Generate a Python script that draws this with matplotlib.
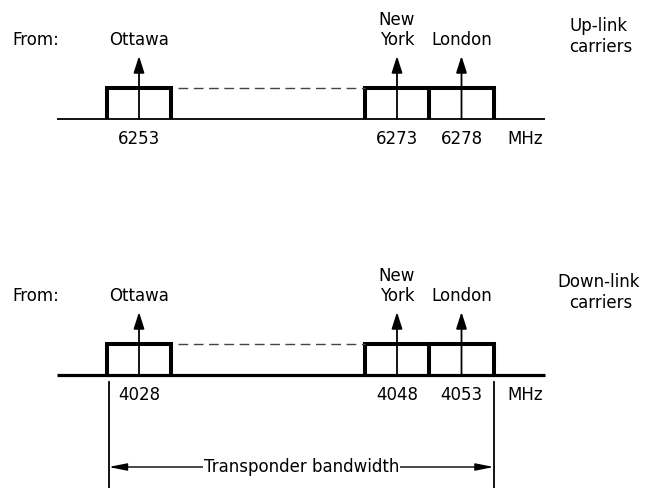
import matplotlib.pyplot as plt

# carrier data (MHz)
sites = ['Ottawa', 'New\nYork', 'London']
uplink_mhz = [6253, 6273, 6278]
downlink_mhz = [4028, 4048, 4053]
carrier_bw = 5.0

W, H = 657, 489
PX_PER_MHZ = 12.9
FONT = 'DejaVu Sans'
FS = 12

plt.rcParams['font.family'] = FONT


def make_axes(fig, f0):
    ax = fig.add_axes([0, 0, 1, 1])
    ax.patch.set_alpha(0)
    ax.set_xlim(f0 - 139 / PX_PER_MHZ, f0 + (W - 139) / PX_PER_MHZ)
    ax.set_ylim(H, 0)
    ax.axis('off')
    return ax


def draw_panel(ax, freqs, base, base_lw, side_label):
    f0 = freqs[0]
    half = carrier_bw / 2
    # frequency axis
    ax.plot([f0 - 6.36, f0 + 31.5], [base, base], color='black', lw=base_lw,
            solid_capstyle='butt')
    top = base - 31
    for f, name in zip(freqs, sites):
        ax.plot([f - half, f - half, f + half, f + half], [base, top, top, base],
                color='black', lw=2.9, solid_joinstyle='miter', solid_capstyle='butt')
        ax.annotate('', xy=(f, base - 63), xytext=(f, base),
                    arrowprops=dict(arrowstyle='-|>,head_length=1.0,head_width=0.32',
                                    lw=1.3, color='black',
                                    mutation_scale=10, shrinkA=0, shrinkB=0))
        lines = name.split('\n')
        for i, ln in enumerate(reversed(lines)):
            ax.text(f, base - 75 - 20 * i, ln, ha='center', va='baseline',
                    fontsize=FS)
        ax.text(f, base + 24, str(f), ha='center', va='baseline', fontsize=FS)
    # dashed link between Ottawa and New York boxes
    ax.plot([freqs[0] + half + 0.5, freqs[1] - half], [top, top], color='#444444',
            lw=1.0, dashes=(7, 4))
    ax.text(f0 + 29.9, base + 24, 'MHz', ha='center', va='baseline', fontsize=FS)
    ax.text(f0 - 9.84, base - 75, 'From:', ha='left', va='baseline', fontsize=FS)
    l1, l2 = side_label
    ax.text(f0 + 35.6, base - 89, l1, ha='center', va='baseline', fontsize=FS)
    ax.text(f0 + 35.8, base - 68, l2, ha='center', va='baseline', fontsize=FS)


fig = plt.figure(figsize=(W / 100, H / 100), dpi=100)

ax_up = make_axes(fig, uplink_mhz[0])
draw_panel(ax_up, uplink_mhz, 120, 1.3, ('Up-link', 'carriers'))

ax_dn = make_axes(fig, downlink_mhz[0])
draw_panel(ax_dn, downlink_mhz, 376, 2.3, ('Down-link', 'carriers'))

# transponder bandwidth marker
lo = downlink_mhz[0] - carrier_bw / 2 + 0.15
hi = downlink_mhz[-1] + carrier_bw / 2
for x in (lo, hi):
    ax_dn.plot([x, x], [383, H], color='black', lw=1.3)
mid = (lo + hi) / 2
for x in (lo, hi):
    ax_dn.annotate('', xy=(x, 468), xytext=(mid, 468),
                   arrowprops=dict(arrowstyle='-|>,head_length=1.1,head_width=0.22',
                                   lw=1.0, color='black',
                                   mutation_scale=10, shrinkA=0, shrinkB=0))
ax_dn.text(mid, 472, 'Transponder bandwidth', ha='center', va='baseline',
           fontsize=FS, bbox=dict(facecolor='white', edgecolor='none', pad=0.5))

fig.savefig('out.png', dpi=100, facecolor='white')
